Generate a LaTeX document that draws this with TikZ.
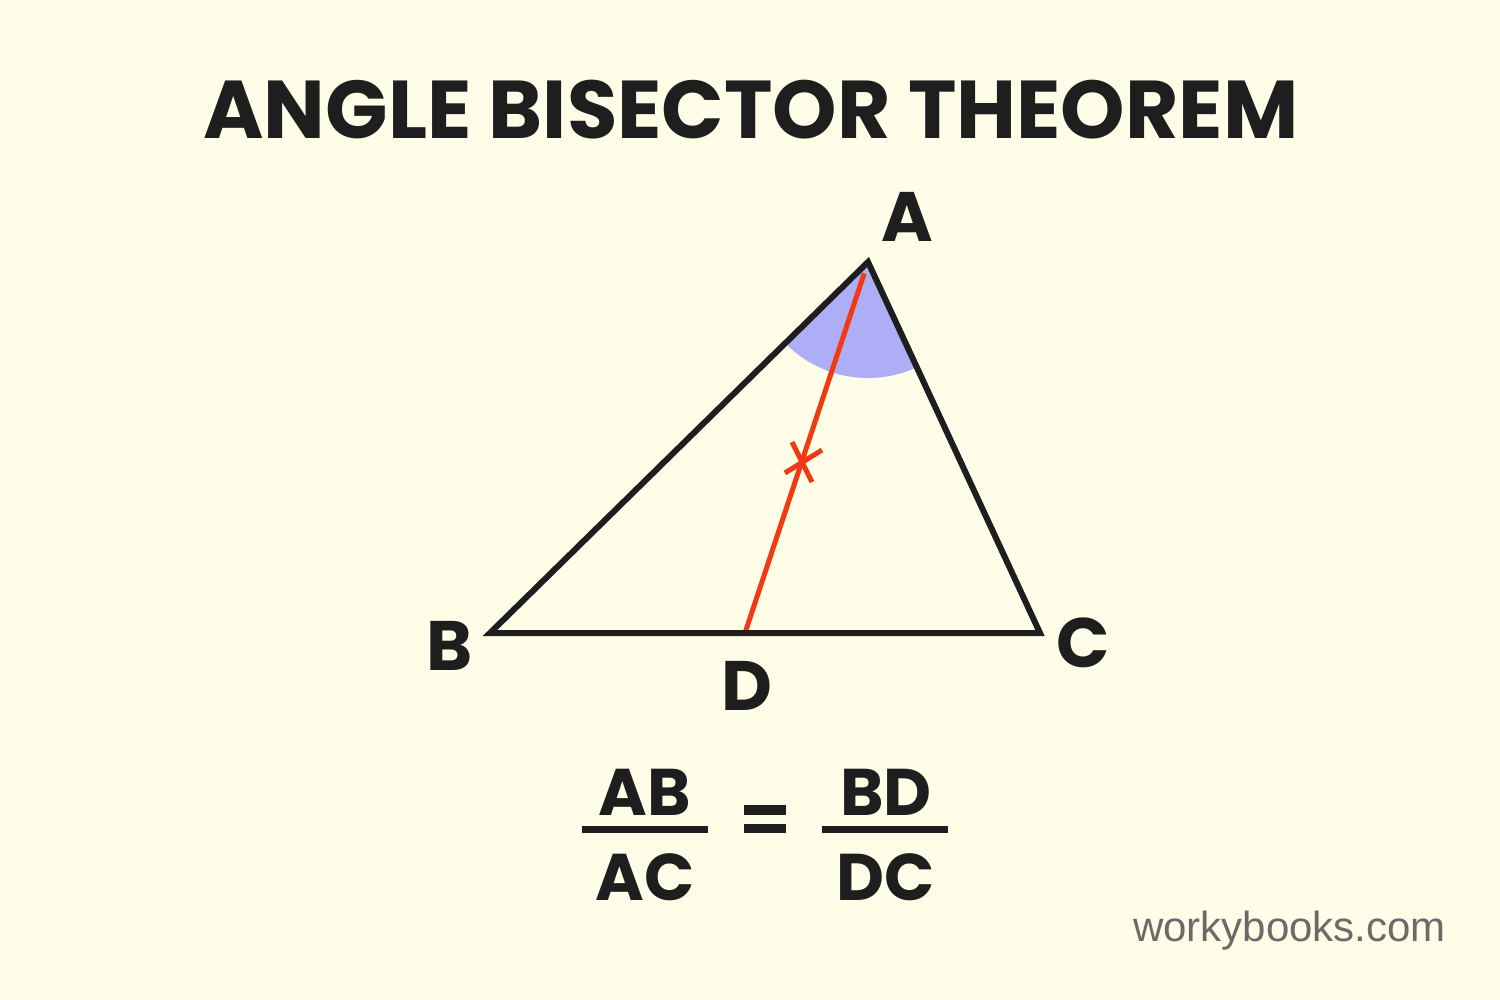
\documentclass[tikz,border=0pt]{standalone}
\usepackage{fontspec}
\newfontfamily\pop{Poppins}
\setmainfont{Liberation Sans}
\usetikzlibrary{calc}
\definecolor{bg}{HTML}{FEFDE7}
\definecolor{ink}{HTML}{1E1E1E}
\definecolor{redl}{HTML}{F03A12}
\definecolor{sect}{HTML}{AEAEF6}
\definecolor{wgray}{HTML}{6A6A6A}
\tikzset{
  lbl/.style={inner sep=0pt, text=ink, font=\pop\bfseries\fontsize{70}{70}\selectfont},
  frac/.style={inner sep=0pt, text=ink, font=\pop\bfseries\fontsize{66}{66}\selectfont},
  side/.style={draw=ink, line width=6pt, line join=miter},
  bis/.style={draw=redl, line width=5pt},
  fracbar/.style={draw=ink, line width=7pt}
}
\begin{document}
\begin{tikzpicture}[x=1pt,y=-1pt]
\fill[bg] (0,0) rectangle (1500,1000);
\useasboundingbox (0,0) rectangle (1500,1000);
\node[inner sep=0pt, text=ink, font=\pop\bfseries\fontsize{82}{82}\selectfont] (title) at (751,110) {ANGLE BISECTOR THEOREM};
\coordinate (A) at (868,262);
\coordinate (B) at (490,633);
\coordinate (C) at (1040,633);
\coordinate (D) at (745,633);
\begin{scope}
\clip (A) -- (B) -- (C) -- cycle;
\fill[sect] (A) circle (116pt);
\end{scope}
\draw[bis] ($(A)!12pt!(D)$) -- (D);
\draw[side] (A) -- (B) -- (C) -- cycle;
\coordinate (T) at (801,462);
\draw[bis] ($(T)+(-9,-20)$) -- ($(T)+(11,20)$);
\draw[bis] ($(T)+(-16,11)$) -- ($(T)+(21,-12)$);
\node[lbl] (lA) at (907,217) {A};
\node[lbl] (lB) at (450,646) {B};
\node[lbl] (lC) at (1083,643) {C};
\node[lbl] (lD) at (747,686) {D};
\node[frac] (AB) at (645,792) {AB};
\node[frac] (AC) at (645,877) {AC};
\node[frac] (BD) at (886,792) {BD};
\node[frac] (DC) at (886,877) {DC};
\coordinate (f1l) at (582,829); \coordinate (f1r) at (708,829);
\coordinate (f2l) at (822,829); \coordinate (f2r) at (948,829);
\draw[fracbar] (f1l) -- (f1r);
\draw[fracbar] (f2l) -- (f2r);
\fill[ink] (744,805) rectangle (786,815);
\fill[ink] (744,824) rectangle (786,833);
\node[inner sep=0pt, anchor=east, text=wgray, font=\fontsize{42}{42}\selectfont] (wb) at (1446,931) {workybooks.com};
\end{tikzpicture}
\end{document}
